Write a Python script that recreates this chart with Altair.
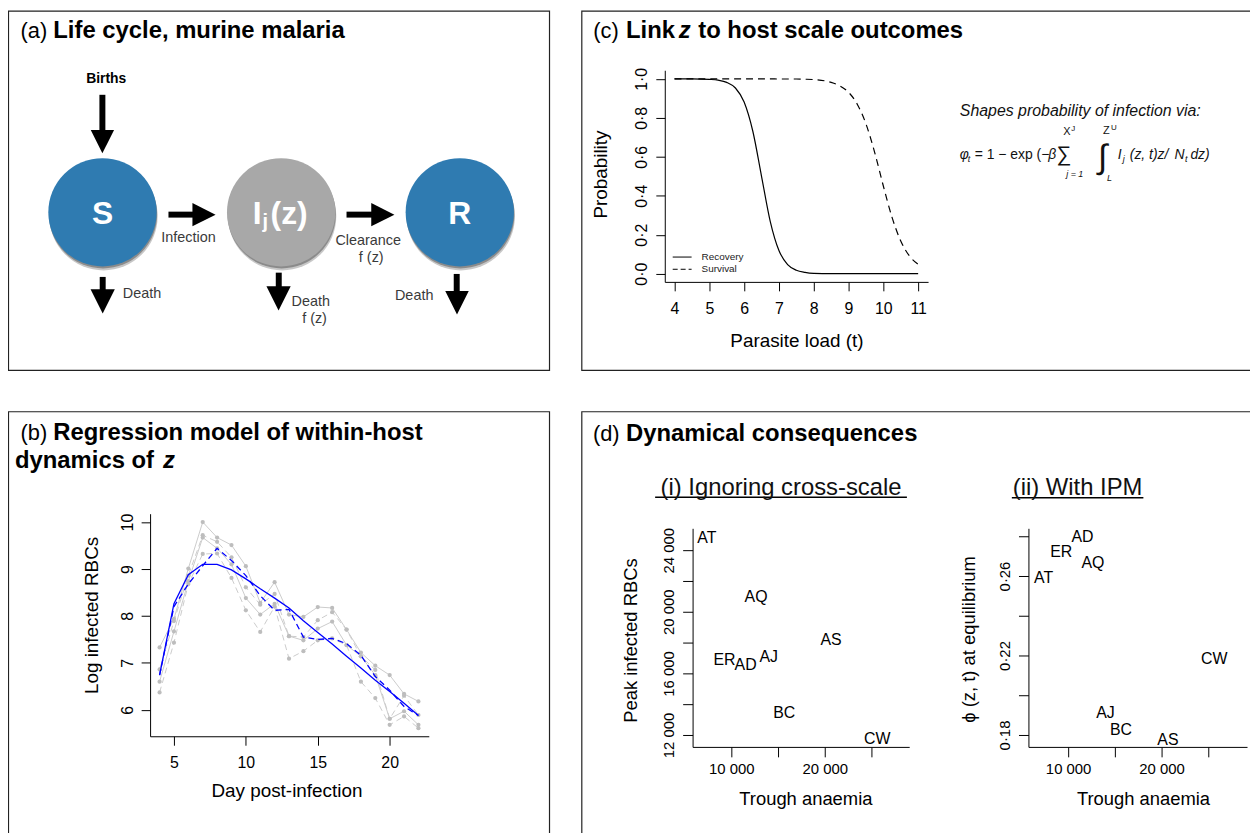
import altair as alt
import pandas as pd

FONT = "Liberation Sans"
W, H = 1250, 825
MARGIN = 8


def c(v):
    """page pixel -> chart pixel"""
    return v - MARGIN


# ---------------- data ----------------
# (a) life-cycle compartments
stage_names = ["S", "I", "R"]
stage_order = [0, 1, 2]
stage_colors = ["#2f7bb1", "#a8a8a8", "#2f7bb1"]

# (b) within-host dynamics: log infected RBCs per day
days = list(range(4, 23))
mouse_1 = [7.33, 7.94, 9.01, 10.00, 9.67, 9.51, 9.06, 8.28, 8.72, 8.03, 7.98, 8.19, 8.17, 7.71, 7.22, 6.94, 6.74, 6.34, 6.18]
mouse_2 = [6.86, 7.89, 8.86, 9.72, 9.58, 9.25, 8.61, 8.24, 8.47, 7.57, 7.55, 7.91, 8.08, 7.71, 7.14, 6.85, 5.81, 6.30, 5.89]
mouse_3 = [6.60, 7.67, 8.74, 9.67, 9.44, 9.10, 8.38, 8.03, 8.26, 7.57, 7.48, 7.73, 7.88, 7.38, 7.14, 6.74, 5.81, 5.97, 5.68]
mouse_4 = [6.37, 7.43, 8.68, 9.32, 9.33, 8.81, 8.12, 7.66, 8.20, 7.09, 7.25, 7.48, 7.52, 7.38, 6.60, 6.25, 5.68, 5.86, 5.61]
model_fit = [6.74, 8.26, 8.88, 9.10, 9.10, 8.98, 8.79, 8.58, 8.38, 8.17, 7.90, 7.65, 7.40, 7.14, 6.89, 6.63, 6.39, 6.14, 5.88]
observed_mean = [6.74, 8.20, 8.68, 9.07, 9.44, 9.18, 8.86, 8.43, 8.12, 8.14, 7.55, 7.50, 7.52, 7.41, 7.16, 6.71, 6.42, 6.07, 5.88]

# (c) probability curves vs parasite load
load_t = [4, 4.5, 5, 5.25, 5.5, 5.75, 6, 6.25, 6.5, 6.75, 7, 7.25, 7.5, 7.75, 8,
          8.5, 8.75, 9, 9.25, 9.5, 9.75, 10, 10.25, 10.5, 10.75, 11]
p_recovery = [1.000, 1.000, 0.997, 0.993, 0.982, 0.953, 0.881, 0.731, 0.500, 0.269, 0.119, 0.047, 0.018, 0.007, 0.002,
              0.000, 0.000, 0.000, 0.000, 0.000, 0.000, 0.000, 0.000, 0.000, 0.000, 0.000]
p_survival = [1.000, 1.000, 1.000, 1.000, 1.000, 1.000, 1.000, 1.000, 1.000, 1.000, 0.999, 0.999, 0.999, 0.998, 0.996,
              0.982, 0.964, 0.931, 0.870, 0.769, 0.623, 0.450, 0.289, 0.168, 0.091, 0.048]

# (d) strain outcomes
strains = ["AT", "ER", "AD", "AQ", "AJ", "BC", "AS", "CW"]
trough_anaemia = [7370, 9260, 11530, 12650, 14000, 15665, 20680, 25630]
peak_irbc = [24794, 16858, 16535, 20968, 17077, 13452, 18150, 11723]
phi_equilibrium = [0.2592, 0.2720, 0.2794, 0.2663, 0.1908, 0.1827, 0.1775, 0.2181]


# ---------------- helpers ----------------
def scale(domain, page_range):
    return alt.Scale(domain=domain, range=[c(page_range[0]), c(page_range[1])], zero=False, nice=False)


def x_axis(values, page_y, fs=16, tick=9, pad=10, expr=None):
    kw = dict(orient="bottom", values=values, offset=c(page_y) - H, tickSize=tick,
              labelPadding=pad, labelFontSize=fs, title=None)
    if expr:
        kw["labelExpr"] = expr
    return alt.Axis(**kw)


def y_axis(values, page_x, fs=16, tick=9, pad=6, expr=None):
    kw = dict(orient="left", values=values, offset=-c(page_x), tickSize=tick,
              labelPadding=pad, labelFontSize=fs, labelAngle=270, labelAlign="center",
              labelBaseline="bottom", title=None)
    if expr:
        kw["labelExpr"] = expr
    return alt.Axis(**kw)


texts = []


def T(t, x, y, fs, weight="normal", style="normal", align="center", baseline="middle", ang=0, col="black"):
    texts.append(dict(t=t, x=c(x), y=c(y), fs=fs, ang=ang, col=col,
                      weight=weight, style=style, align=align, baseline=baseline))


layers = []

# ---------------- panel frames ----------------
frames = pd.DataFrame(dict(x1=[0.5, 577.5, 0.5, 577.5], x2=[545, 1265, 545, 1265],
                           y1=[0.5, 0.5, 403.7, 403.7], y2=[362, 362, 835, 835]))
layers.append(alt.Chart(frames).mark_rect(fill="white", fillOpacity=0, stroke="#222", strokeWidth=1.2).encode(
    x=alt.X("x1:Q", scale=None, axis=None), x2="x2:Q",
    y=alt.Y("y1:Q", scale=None, axis=None), y2="y2:Q"))

# ---------------- panel (a) ----------------
nodes = pd.DataFrame({"name": stage_names, "idx": stage_order, "col": stage_colors})
node_x = scale([0, 2], [103.1, 462.7])
CIRCLE = 11882
layers.append(alt.Chart(nodes).mark_point(filled=True, size=CIRCLE, color="#000", opacity=0.22,
                                          strokeWidth=0, yOffset=4, xOffset=1).encode(
    x=alt.X("idx:Q", scale=node_x, axis=None), y=alt.value(c(211))))
layers.append(alt.Chart(nodes).mark_point(filled=True, size=CIRCLE, color="#000", opacity=0.3,
                                          strokeWidth=0, yOffset=2, xOffset=0.5).encode(
    x=alt.X("idx:Q", scale=node_x, axis=None), y=alt.value(c(211))))
layers.append(alt.Chart(nodes).mark_point(filled=True, size=CIRCLE, opacity=1, strokeWidth=0).encode(
    x=alt.X("idx:Q", scale=node_x, axis=None), y=alt.value(c(211)),
    color=alt.Color("col:N", scale=None)))
layers.append(alt.Chart(nodes).transform_filter("datum.name != 'I'").mark_text(
    font=FONT, fontWeight="bold", fontSize=32, color="white", baseline="alphabetic").encode(
    x=alt.X("idx:Q", scale=node_x, axis=None), y=alt.value(c(223)), text="name:N"))
i_center = (103.1 + 462.7) / 2
T("I", i_center - 24, 223, 32, weight="bold", baseline="alphabetic", col="white")
T("j", i_center - 16, 227, 20, weight="bold", baseline="alphabetic", col="white")
T("(z)", i_center + 8, 223, 32, weight="bold", baseline="alphabetic", col="white")

# arrows
rules = pd.DataFrame(dict(
    x1=[95, 161.5, 340.7, 95.3, 272.5, 451.6],
    x2=[95, 187, 367, 95.3, 272.5, 451.6],
    y1=[84.7, 205.3, 205.3, 268, 263.7, 265],
    y2=[122, 205.3, 205.3, 282, 279, 284],
    w=[6, 6, 6, 6, 6, 6]))
DOWN = "M-1,-1L1,-1L0,1Z"
RIGHT = "M-1,-1L1,0L-1,1Z"
heads = pd.DataFrame(dict(
    x=[95, 197.25, 377.25, 95.3, 272.3, 451.9],
    y=[131.85, 205.3, 205.3, 292.5, 289.5, 294],
    shape=[DOWN, RIGHT, RIGHT, DOWN, DOWN, DOWN],
    size=[552, 543, 543, 595, 595, 560]))
layers.append(alt.Chart(heads).mark_point(filled=True, color="black", opacity=1, strokeWidth=0).encode(
    x=alt.X("x:Q", scale=None, axis=None), y=alt.Y("y:Q", scale=None, axis=None),
    shape=alt.Shape("shape:N", scale=None), size=alt.Size("size:Q", scale=None)))

T("(a)", 20.6, 36, 22, align="left", baseline="alphabetic")
T("Life cycle, murine malaria", 53.6, 36, 24, weight="bold", align="left", baseline="alphabetic")
T("Births", 106.9, 77.3, 14, weight="bold")
G = "#3a3a3a"
T("Infection", 189.7, 237.3, 14.5, col=G)
T("Clearance", 370.5, 240, 14.5, col=G)
T("f (z)", 373.6, 256.7, 14.5, col=G)
T("Death", 142.9, 293.3, 14.5, col=G)
T("Death", 312.7, 301, 14.5, col=G)
T("f (z)", 316.5, 318.3, 14.5, col=G)
T("Death", 416.8, 295, 14.5, col=G)

# ---------------- panel (c) ----------------
curves = pd.DataFrame({"t": load_t, "rec": p_recovery, "surv": p_survival})
cxs = scale([3.72, 11.285], [669, 934])
cys = scale([-0.042, 1.044], [281, 68])
dot1 = "replace(format(datum.value, '.1f'), '.', '\u00b7')"
layers.append(alt.Chart(curves).mark_line(color="black", strokeWidth=1.2, interpolate="monotone").encode(
    x=alt.X("t:Q", scale=cxs, axis=x_axis(list(range(4, 12)), 281)),
    y=alt.Y("rec:Q", scale=cys, axis=y_axis([0, 0.2, 0.4, 0.6, 0.8, 1.0], 669, expr=dot1))))
layers.append(alt.Chart(curves).mark_line(color="black", strokeWidth=1.2, strokeDash=[7, 5],
                                          interpolate="monotone").encode(
    x=alt.X("t:Q", scale=cxs, axis=None), y=alt.Y("surv:Q", scale=cys, axis=None)))

T("(c)", 597, 36, 22, align="left", baseline="alphabetic")
T("Link", 630, 36, 24, weight="bold", align="left", baseline="alphabetic")
T("z", 683, 36, 24, weight="bold", style="italic", align="left", baseline="alphabetic")
T("to host scale outcomes", 702.7, 36, 24, weight="bold", align="left", baseline="alphabetic")
T("Probability", 605, 173, 19, ang=270)
T("Parasite load (t)", 802, 341, 19)
T("Recovery", 706, 256, 10, align="left", col="#222")
T("Survival", 706, 268.3, 10, align="left", col="#222")
T("Shapes probability of infection via:", 966, 109, 16, style="italic", align="left", col="#111")
F = dict(align="left", baseline="alphabetic", col="#111")
T("\u03c6", 966, 157, 14, style="italic", **F)
T("t", 974, 160, 9, style="italic", **F)
T("= 1 \u2212 exp (\u2212", 981, 157, 14, **F)
T("\u03b2", 1055, 157, 14, style="italic", **F)
T("\u2211", 1063, 159, 21, **F)
T("X", 1070, 133, 11, **F)
T("J", 1078, 129, 8, **F)
T("j = 1", 1073, 175, 9, style="italic", **F)
T("\u222b", 1105, 166, 34, **F)
T("Z", 1110, 132, 11, **F)
T("U", 1118, 128, 8, **F)
T("L", 1114, 179, 9, style="italic", **F)
T("I", 1125, 157, 14, style="italic", **F)
T("j", 1130, 160, 9, style="italic", **F)
T("(z, t)z/", 1137, 157, 14, style="italic", **F)
T("N", 1182, 157, 14, style="italic", **F)
T("t", 1192.5, 160, 9, style="italic", **F)
T("dz)", 1198, 157, 14, style="italic", **F)

# ---------------- panel (b) ----------------
rows = []
for k, vals in enumerate([mouse_1, mouse_2, mouse_3, mouse_4]):
    for d, v in zip(days, vals):
        rows.append(dict(day=d, value=v, mouse=f"m{k + 1}", dashed=k % 2))
mice = pd.DataFrame(rows)
fits = pd.DataFrame({"day": days, "fit": model_fit, "mean": observed_mean})
bxs = scale([3.34, 22.72], [151, 431.5])
bys = scale([5.437, 10.178], [738.3, 514.3])
layers.append(alt.Chart(mice).transform_filter("datum.dashed == 0").mark_line(
    color="#cccccc", strokeWidth=1).encode(
    x=alt.X("day:Q", scale=bxs, axis=x_axis([5, 10, 15, 20], 738.3, pad=9)),
    y=alt.Y("value:Q", scale=bys, axis=y_axis([6, 7, 8, 9, 10], 151)),
    detail="mouse:N"))
layers.append(alt.Chart(mice).transform_filter("datum.dashed == 1").mark_line(
    color="#cccccc", strokeWidth=1, strokeDash=[6, 4]).encode(
    x=alt.X("day:Q", scale=bxs, axis=None), y=alt.Y("value:Q", scale=bys, axis=None),
    detail="mouse:N"))
layers.append(alt.Chart(mice).mark_circle(size=18, color="#bdbdbd", opacity=1).encode(
    x=alt.X("day:Q", scale=bxs, axis=None), y=alt.Y("value:Q", scale=bys, axis=None)))
layers.append(alt.Chart(fits).mark_line(color="#0000ff", strokeWidth=1.3).encode(
    x=alt.X("day:Q", scale=bxs, axis=None), y=alt.Y("fit:Q", scale=bys, axis=None)))
layers.append(alt.Chart(fits).mark_line(color="#0000ff", strokeWidth=1.3, strokeDash=[6, 4]).encode(
    x=alt.X("day:Q", scale=bxs, axis=None), y=alt.Y("mean:Q", scale=bys, axis=None)))

T("(b)", 20.6, 440, 22, align="left", baseline="alphabetic")
T("Regression model of within-host", 53.6, 440, 24, weight="bold", align="left", baseline="alphabetic")
T("dynamics of", 15, 468, 24, weight="bold", align="left", baseline="alphabetic")
T("z", 164, 468, 24, weight="bold", style="italic", align="left", baseline="alphabetic")
T("Log infected RBCs", 93, 616.7, 19, ang=270)
T("Day post-infection", 288.7, 793.3, 19)

# ---------------- panel (d) ----------------
dd = pd.DataFrame({"strain": strains, "trough": trough_anaemia, "peak": peak_irbc, "phi": phi_equilibrium})
d1x = scale([5850, 29050], [697, 915])
d1y = scale([11230, 25420], [749, 529])
d2x = scale([5750, 29150], [1035, 1255])
d2y = scale([0.174, 0.284], [749, 529])
thou_x = "datum.value % 10000 == 0 ? replace(format(datum.value, ','), ',', ' ') : ''"
thou_y = "datum.value % 4000 == 0 ? replace(format(datum.value, ','), ',', ' ') : ''"
phi_lab = "round(datum.value * 100) % 4 == 2 ? replace(format(datum.value, '.2f'), '.', '\u00b7') : ''"
layers.append(alt.Chart(dd).mark_text(font=FONT, fontSize=16, color="black").encode(
    x=alt.X("trough:Q", scale=d1x, axis=x_axis([10000, 15000, 20000, 25000], 749, fs=15, tick=10, pad=5, expr=thou_x)),
    y=alt.Y("peak:Q", scale=d1y, axis=y_axis(list(range(12000, 24001, 2000)), 697, fs=15, tick=10, pad=6.5, expr=thou_y)),
    text="strain:N"))
layers.append(alt.Chart(dd).mark_text(font=FONT, fontSize=16, color="black").encode(
    x=alt.X("trough:Q", scale=d2x, axis=x_axis([10000, 15000, 20000, 25000], 749, fs=15, tick=10, pad=5, expr=thou_x)),
    y=alt.Y("phi:Q", scale=d2y, axis=y_axis([0.18, 0.20, 0.22, 0.24, 0.26, 0.28], 1035, fs=15, tick=10, pad=6, expr=phi_lab)),
    text="strain:N"))

T("(d)", 596.7, 441, 22, align="left", baseline="alphabetic")
T("Dynamical consequences", 630, 441, 24, weight="bold", align="left", baseline="alphabetic")
T("(i) Ignoring cross-scale", 786, 495, 24, baseline="alphabetic", col="#111")
T("(ii) With IPM", 1084.5, 495, 24, baseline="alphabetic", col="#111")
T("Peak infected RBCs", 635.5, 642, 18.5, ang=270)
T("Trough anaemia", 811, 801.7, 18.5)
T("\u03d5 (z, t) at equilibrium", 975, 640.8, 18.5, ang=270)
T("Trough anaemia", 1150.8, 801.7, 18.5)

# thin rules: legend keys and underlines, plus arrow shafts
thin = pd.DataFrame(dict(
    x1=[c(677), c(659.3), c(1018.3)], x2=[c(696), c(912.7), c(1150.7)],
    y1=[c(256), c(497.7), c(498.3)], y2=[c(256), c(497.7), c(498.3)], w=[1, 1.4, 1.4]))
allrules = pd.concat([rules, thin], ignore_index=True)
layers.append(alt.Chart(allrules).mark_rule(color="black").encode(
    x=alt.X("x1:Q", scale=None, axis=None), x2="x2:Q",
    y=alt.Y("y1:Q", scale=None, axis=None), y2="y2:Q",
    strokeWidth=alt.StrokeWidth("w:Q", scale=None)))
dashrule = pd.DataFrame(dict(x1=[c(677)], x2=[c(696)], y1=[c(268.3)], y2=[c(268.3)]))
layers.append(alt.Chart(dashrule).mark_rule(color="black", strokeWidth=1, strokeDash=[5, 3]).encode(
    x=alt.X("x1:Q", scale=None, axis=None), x2="x2:Q",
    y=alt.Y("y1:Q", scale=None, axis=None), y2="y2:Q"))

# ---------------- text layers ----------------
tdf = pd.DataFrame(texts)
for (weight, style, align, baseline), grp in tdf.groupby(["weight", "style", "align", "baseline"]):
    layers.append(alt.Chart(grp.reset_index(drop=True)).mark_text(
        font=FONT, fontWeight=weight, fontStyle=style, align=align, baseline=baseline).encode(
        x=alt.X("x:Q", scale=None, axis=None), y=alt.Y("y:Q", scale=None, axis=None),
        text="t:N", size=alt.Size("fs:Q", scale=None), angle=alt.Angle("ang:Q", scale=None),
        color=alt.Color("col:N", scale=None)))

chart = alt.layer(*layers).resolve_scale(x="independent", y="independent").resolve_axis(
    x="independent", y="independent").properties(
    width=W, height=H, padding=0, autosize=alt.AutoSizeParams(type="none"), background="white"
).configure_view(strokeWidth=0).configure_axis(
    grid=False, domainColor="black", tickColor="black", labelColor="black", labelFont=FONT,
    domainWidth=1, tickWidth=1, labelOverlap=False, labelFlush=False)

chart.save("out.html", embed_options={"renderer": "svg", "actions": False})
